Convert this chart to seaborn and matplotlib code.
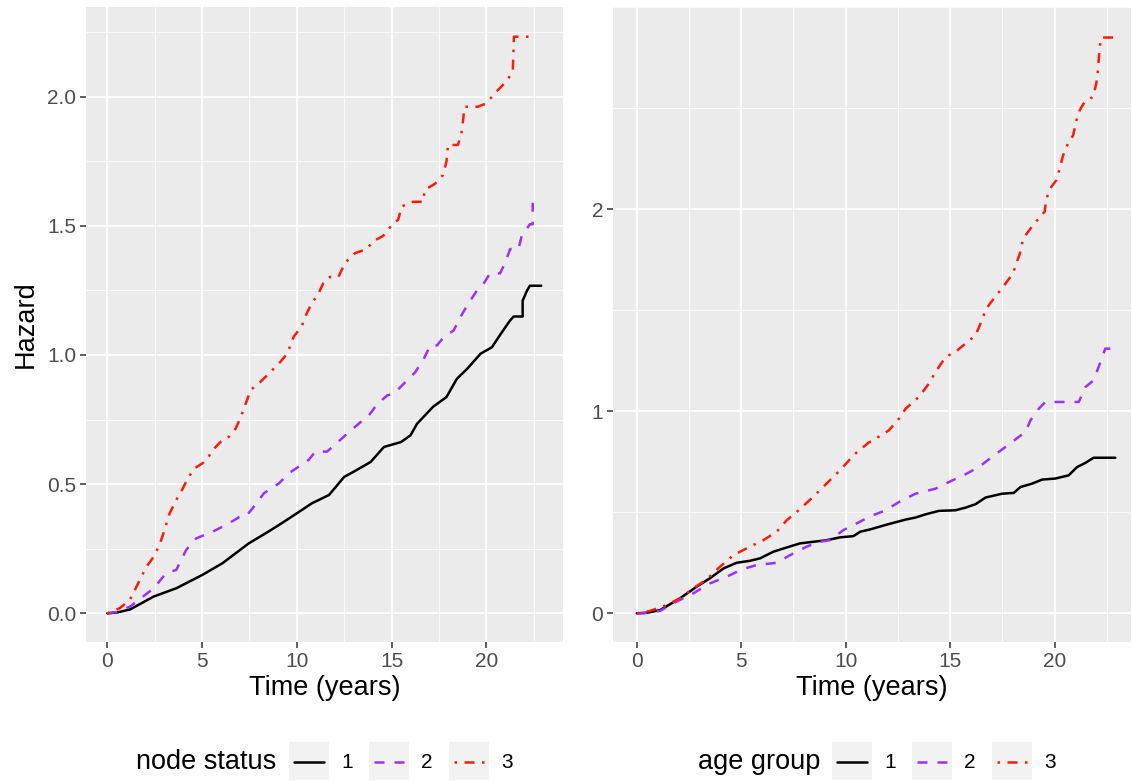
import numpy as np
import pandas as pd
import matplotlib
matplotlib.use("Agg")
import matplotlib.pyplot as plt
from matplotlib.lines import Line2D
from matplotlib.patches import Rectangle
from matplotlib.ticker import MultipleLocator
import seaborn as sns

# ---- cumulative hazard by node status ----
node1_t = [0, 0.5, 1.2, 2.45, 3.64, 5.0, 6.08, 7.45, 8.36, 9.06, 10.0, 10.8, 11.7, 12.5, 13.0,
           13.9, 14.6, 15.5, 16.0, 16.35, 17.2, 17.9, 18.45, 19.0, 19.7, 20.3, 20.75, 21.25,
           21.45, 21.92, 21.92, 22.15, 22.3, 22.9]
node1_h = [0, 0.003, 0.015, 0.065, 0.097, 0.148, 0.194, 0.27, 0.31, 0.342, 0.387, 0.426, 0.458,
           0.528, 0.548, 0.586, 0.644, 0.663, 0.689, 0.734, 0.80, 0.837, 0.908, 0.947, 1.005,
           1.03, 1.08, 1.133, 1.149, 1.149, 1.21, 1.249, 1.268, 1.268]

node2_t = [0, 0.5, 1.2, 2.45, 3.1, 3.64, 4.16, 4.69, 5.56, 6.26, 6.96, 7.3, 7.66, 8.27, 9.06,
           9.58, 10.1, 10.63, 10.98, 11.6, 11.97, 12.67, 13.38, 13.8, 14.25, 14.78, 15.13,
           15.65, 16.26, 16.7, 17.05, 17.4, 17.75, 18.28, 18.63, 18.98, 19.5, 19.85, 20.2,
           20.73, 21.0, 21.26, 21.7, 21.87, 22.3, 22.45, 22.45]
node2_h = [0, 0.005, 0.026, 0.097, 0.155, 0.168, 0.245, 0.29, 0.316, 0.342, 0.372, 0.374,
           0.406, 0.465, 0.503, 0.542, 0.568, 0.594, 0.626, 0.626, 0.65, 0.696, 0.741, 0.766,
           0.81, 0.844, 0.85, 0.889, 0.934, 0.985, 1.037, 1.037, 1.069, 1.095, 1.146, 1.19,
           1.249, 1.275, 1.316, 1.316, 1.358, 1.41, 1.41, 1.461, 1.506, 1.506, 1.589]

node3_t = [0, 0.66, 1.19, 1.54, 2.06, 2.45, 2.76, 3.02, 3.29, 3.64, 3.99, 4.25, 4.6, 5.03, 5.3,
           5.56, 6.0, 6.43, 6.78, 7.05, 7.31, 7.57, 8.0, 8.36, 8.8, 9.14, 9.5, 9.84, 10.26,
           10.53, 10.79, 11.14, 11.4, 11.75, 12.2, 12.54, 13.07, 13.68, 14.04, 14.56, 14.82,
           15.09, 15.35, 15.53, 16.14, 16.67, 16.75, 17.28, 17.72, 17.9, 17.98, 18.5, 18.68,
           18.86, 19.56, 20.0, 20.53, 21.05, 21.4, 21.46, 22.46]
node3_h = [0, 0.02, 0.052, 0.103, 0.18, 0.219, 0.265, 0.323, 0.387, 0.439, 0.484, 0.523,
           0.561, 0.581, 0.6, 0.632, 0.665, 0.684, 0.716, 0.761, 0.813, 0.865, 0.89, 0.916,
           0.948, 0.974, 1.006, 1.071, 1.111, 1.162, 1.2, 1.237, 1.278, 1.302, 1.302, 1.356,
           1.394, 1.41, 1.44, 1.461, 1.485, 1.51, 1.523, 1.575, 1.593, 1.593, 1.639, 1.662,
           1.697, 1.749, 1.813, 1.813, 1.852, 1.961, 1.961, 1.974, 2.019, 2.058, 2.097, 2.232,
           2.232]

# ---- cumulative hazard by age group ----
age1_t = [0, 0.5, 1.12, 2.07, 2.87, 3.5, 4.15, 4.78, 5.42, 5.9, 6.54, 7.18, 7.81, 8.45, 9.09,
          9.73, 10.37, 10.7, 11.16, 12.0, 12.87, 13.34, 13.82, 14.46, 15.25, 15.73, 16.21,
          16.69, 17.48, 18.04, 18.36, 18.92, 19.4, 20.03, 20.67, 21.07, 21.46, 21.86, 22.9]
age1_h = [0, 0.003, 0.016, 0.074, 0.132, 0.173, 0.222, 0.25, 0.26, 0.272, 0.305, 0.326, 0.346,
          0.354, 0.362, 0.376, 0.382, 0.404, 0.415, 0.44, 0.464, 0.474, 0.49, 0.507, 0.51,
          0.523, 0.54, 0.573, 0.592, 0.596, 0.625, 0.642, 0.662, 0.667, 0.683, 0.724, 0.744,
          0.77, 0.77]

age2_t = [0, 0.3, 1.12, 1.91, 2.71, 3.5, 4.31, 5.02, 5.74, 6.7, 7.34, 8.13, 8.77, 9.25, 9.89,
          10.53, 11.13, 11.91, 12.55, 13.34, 14.3, 14.94, 15.73, 16.37, 17.0, 17.64, 18.28,
          18.6, 18.84, 19.24, 19.55, 21.15, 21.47, 21.86, 22.1, 22.42, 22.66]
age2_h = [0, 0.0, 0.012, 0.058, 0.099, 0.148, 0.181, 0.217, 0.239, 0.25, 0.288, 0.33, 0.354,
          0.362, 0.412, 0.445, 0.478, 0.51, 0.551, 0.592, 0.617, 0.65, 0.688, 0.724, 0.774,
          0.823, 0.873, 0.898, 0.955, 1.013, 1.046, 1.046, 1.12, 1.153, 1.219, 1.31, 1.31]

age3_t = [0, 0.64, 1.44, 2.07, 2.71, 3.35, 3.99, 4.63, 5.42, 6.06, 6.7, 7.18, 7.66, 8.45, 9.25,
          9.73, 10.4, 11.1, 11.6, 12.07, 12.55, 12.87, 13.5, 13.98, 14.3, 14.78, 15.25, 15.73,
          16.21, 16.45, 16.69, 16.9, 17.53, 18.0, 18.33, 18.49, 18.96, 19.52, 19.6, 19.84,
          20.08, 20.24, 20.4, 20.56, 20.88, 21.04, 21.2, 21.43, 21.83, 21.99, 22.07, 22.15,
          22.23, 22.95]
age3_h = [0, 0.012, 0.041, 0.074, 0.124, 0.168, 0.231, 0.288, 0.33, 0.362, 0.404, 0.461,
          0.502, 0.577, 0.659, 0.708, 0.785, 0.845, 0.875, 0.906, 0.964, 1.013, 1.071, 1.137,
          1.195, 1.269, 1.294, 1.335, 1.376, 1.434, 1.5, 1.533, 1.616, 1.682, 1.78, 1.855,
          1.921, 1.988, 2.053, 2.111, 2.144, 2.201, 2.267, 2.309, 2.366, 2.44, 2.49, 2.531,
          2.556, 2.622, 2.688, 2.804, 2.85, 2.85]

levels = ["1", "2", "3"]
x_ticks = [0, 5, 10, 15, 20]
node_y_ticks = [0.0, 0.5, 1.0, 1.5, 2.0]
node_y_labels = ["0.0", "0.5", "1.0", "1.5", "2.0"]
age_y_ticks = [0, 1, 2]
age_y_labels = ["0", "1", "2"]
x_title = "Time (years)"
y_title = "Hazard"
node_legend_title = "node status"
age_legend_title = "age group"


def long_frame(series):
    parts = []
    for lev, (t, h) in zip(levels, series):
        parts.append(pd.DataFrame({"time": t, "hazard": h, "group": lev}))
    return pd.concat(parts, ignore_index=True)


node_df = long_frame([(node1_t, node1_h), (node2_t, node2_h), (node3_t, node3_h)])
age_df = long_frame([(age1_t, age1_h), (age2_t, age2_h), (age3_t, age3_h)])

colors = {"1": "#000000", "2": "#9B30FF", "3": "#FF1A0A"}
dash_map = {"1": "", "2": (4, 4), "3": (1, 3, 4, 3)}
LW = 1.8

sns.set_theme(style="darkgrid")
plt.rcParams["font.family"] = ["Liberation Sans", "DejaVu Sans"]

W, H = 1132, 781
fig = plt.figure(figsize=(W / 100, H / 100), dpi=100)


def fx(px):
    return px / W


def fy(py):
    return 1 - py / H


def make_axes(left, right, top, bottom):
    return fig.add_axes([fx(left), fy(bottom), fx(right) - fx(left), fy(top) - fy(bottom)])


ax_node = make_axes(86, 563, 7, 642)
ax_age = make_axes(613, 1131, 7, 642)


def draw_panel(ax, frame, xlim, ylim, yticks, ylabels, yminor):
    sns.lineplot(data=frame, x="time", y="hazard", hue="group", style="group",
                 hue_order=levels, style_order=levels, palette=colors, dashes=dash_map,
                 estimator=None, sort=False, legend=False, linewidth=LW, ax=ax)
    ax.set_facecolor("#EBEBEB")
    ax.set_xlim(*xlim)
    ax.set_ylim(*ylim)
    ax.set_xticks(x_ticks)
    ax.set_xticklabels([str(v) for v in x_ticks])
    ax.xaxis.set_minor_locator(MultipleLocator(2.5))
    ax.set_yticks(yticks)
    ax.set_yticklabels(ylabels)
    ax.yaxis.set_minor_locator(MultipleLocator(yminor))
    ax.grid(which="major", color="white", linewidth=1.25)
    ax.grid(which="minor", color="white", linewidth=0.6)
    ax.set_axisbelow(True)
    for s in ax.spines.values():
        s.set_visible(False)
    ax.tick_params(which="major", length=4, width=1.1, color="#333333",
                   labelsize=15, labelcolor="#4D4D4D", pad=3)
    ax.tick_params(which="minor", length=0)
    ax.tick_params(axis="x", bottom=True)
    ax.tick_params(axis="y", left=True)
    ax.set_xlabel(x_title, fontsize=19.5, color="black", labelpad=3)


draw_panel(ax_node, node_df, (-1.124, 24.05), (-0.111, 2.347),
           node_y_ticks, node_y_labels, 0.25)
ax_node.set_ylabel(y_title, fontsize=19.5, color="black")
ax_node.yaxis.set_label_coords(-0.1, 0.5)

draw_panel(ax_age, age_df, (-1.134, 23.65), (-0.142, 3.001),
           age_y_ticks, age_y_labels, 0.5)
ax_age.set_ylabel("")


def draw_legend(title, title_right, key_lefts, y_mid=762):
    fig.text(fx(title_right), fy(y_mid), title, ha="right", va="center",
             fontsize=19.5, color="black")
    for left, lev in zip(key_lefts, levels):
        fig.add_artist(Rectangle((fx(left), fy(780)), fx(40), 38 / H,
                                 transform=fig.transFigure, facecolor="#F2F2F2",
                                 edgecolor="none"))
        ls = "-" if dash_map[lev] == "" else (0, dash_map[lev])
        fig.add_artist(Line2D([fx(left + 5), fx(left + 35)], [fy(y_mid)] * 2,
                              transform=fig.transFigure, color=colors[lev],
                              linewidth=LW, linestyle=ls))
        fig.text(fx(left + 58), fy(y_mid), lev, ha="center", va="center",
                 fontsize=15, color="black")


draw_legend(node_legend_title, 276, [289, 369, 449])
draw_legend(age_legend_title, 820, [832, 912, 992])

fig.savefig("out.png", dpi=100)
